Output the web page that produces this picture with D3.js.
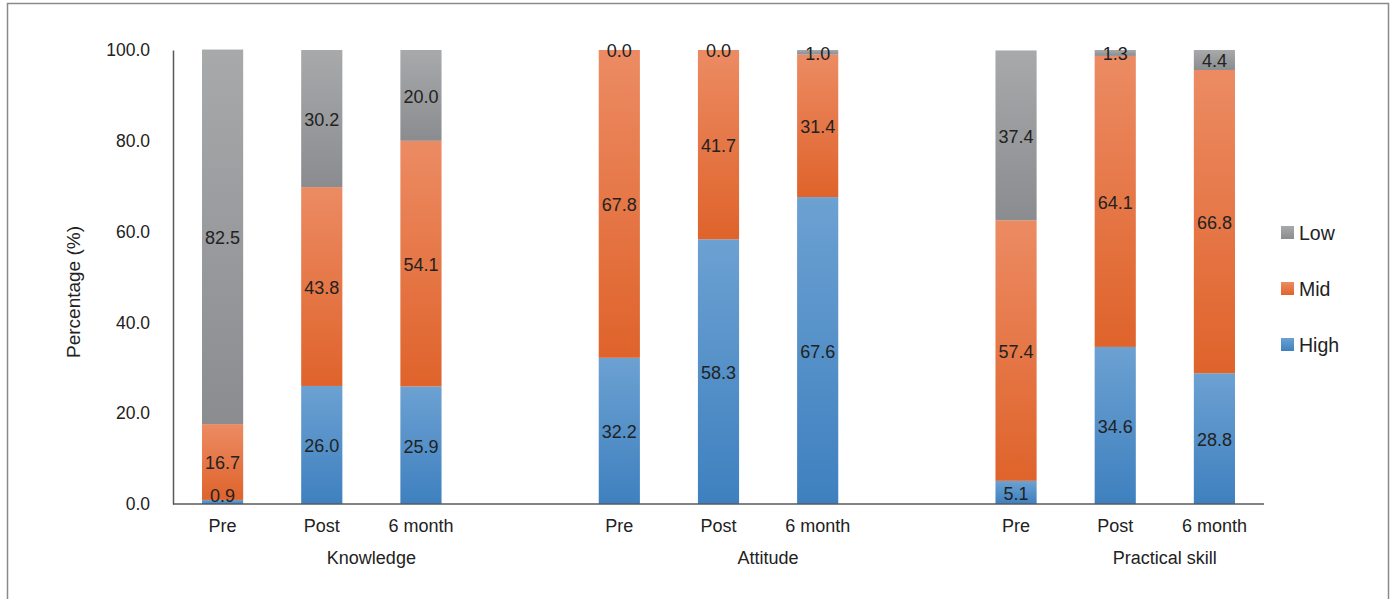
<!DOCTYPE html>
<html>
<head>
<meta charset="utf-8">
<script src="https://cdnjs.cloudflare.com/ajax/libs/d3/7.8.5/d3.min.js"></script>
<style>
  html, body { margin: 0; padding: 0; background: #fff; }
  svg { display: block; font-family: "Liberation Sans", Arial, sans-serif; }
</style>
</head>
<body>
<svg id="chart" width="1395" height="599"></svg>
<script>
// Domains and time points
const groups = ["Knowledge", "Attitude", "Practical skill"];
const timepoints = ["Pre", "Post", "6 month"];
const levels = ["High", "Mid", "Low"];

// Percentages per group, in time point order
const highValues = [[0.9, 26.0, 25.9], [32.2, 58.3, 67.6], [5.1, 34.6, 28.8]];
const midValues  = [[16.7, 43.8, 54.1], [67.8, 41.7, 31.4], [57.4, 64.1, 66.8]];
const lowValues  = [[82.5, 30.2, 20.0], [0.0, 0.0, 1.0], [37.4, 1.3, 4.4]];

const yTicks = [0, 20, 40, 60, 80, 100];

const svg = d3.select("#chart");

// Outer frame
svg.append("rect")
  .attr("x", 7.5).attr("y", 3.5)
  .attr("width", 1381).attr("height", 600)
  .attr("fill", "none").attr("stroke", "#8a8a8a").attr("stroke-width", 1.5);

const plot = { left: 173, right: 1264, top: 50, bottom: 504 };

// One band per bar, with an empty band between groups
const slots = [];
groups.forEach((g, gi) => {
  timepoints.forEach((t, ti) => slots.push({ key: g + "|" + t, group: g, gi, ti }));
  if (gi < groups.length - 1) slots.push({ key: "gap" + gi, gap: true });
});

const x = d3.scaleBand()
  .domain(slots.map(s => s.key))
  .range([plot.left, plot.right])
  .paddingInner(0.585)
  .paddingOuter(0.2925);

const y = d3.scaleLinear().domain([0, 100]).range([plot.bottom, plot.top]);

// Gradients for each level
const colors = {
  Low:  ["#a8a9ab", "#8b8c8f"],
  Mid:  ["#ec8b63", "#df632b"],
  High: ["#6ca1d2", "#3e80bf"]
};
const defs = svg.append("defs");
levels.forEach(l => {
  const grad = defs.append("linearGradient")
    .attr("id", "grad-" + l)
    .attr("x1", 0).attr("y1", 0).attr("x2", 0).attr("y2", 1);
  grad.append("stop").attr("offset", "0%").attr("stop-color", colors[l][0]);
  grad.append("stop").attr("offset", "100%").attr("stop-color", colors[l][1]);
});

// Stacked records
const rows = [];
groups.forEach((g, gi) => {
  timepoints.forEach((t, ti) => {
    rows.push({ key: g + "|" + t, High: highValues[gi][ti], Mid: midValues[gi][ti], Low: lowValues[gi][ti] });
  });
});
const stack = d3.stack().keys(levels)(rows);

// Y axis
const yAxis = d3.axisLeft(y).tickValues(yTicks).tickSize(0).tickPadding(23)
  .tickFormat(d3.format(".1f"));
svg.append("g")
  .attr("transform", `translate(${plot.left},0)`)
  .call(yAxis)
  .call(g => g.select(".domain").attr("stroke", "#595959").attr("stroke-width", 1.5))
  .call(g => g.selectAll("text").attr("font-size", 17.5).attr("fill", "#222")
    .attr("font-family", "Liberation Sans, Arial, sans-serif"));

// Bars
stack.forEach(layer => {
  svg.append("g").selectAll("rect")
    .data(layer)
    .join("rect")
    .attr("x", d => x(d.data.key))
    .attr("width", x.bandwidth())
    .attr("y", d => y(d[1]))
    .attr("height", d => y(d[0]) - y(d[1]))
    .attr("fill", `url(#grad-${layer.key})`);
});

// X axis line
svg.append("line")
  .attr("x1", plot.left).attr("x2", plot.right)
  .attr("y1", plot.bottom).attr("y2", plot.bottom)
  .attr("stroke", "#595959").attr("stroke-width", 1.5);

// Value labels, kept inside the plot area
stack.forEach(layer => {
  svg.append("g").selectAll("text")
    .data(layer)
    .join("text")
    .attr("x", d => x(d.data.key) + x.bandwidth() / 2)
    .attr("y", d => Math.min((y(d[0]) + y(d[1])) / 2, plot.bottom - 9) + 1)
    .attr("dy", "0.36em")
    .attr("text-anchor", "middle")
    .attr("font-size", 18)
    .attr("fill", "#222")
    .text(d => d.data[layer.key].toFixed(1));
});

// Time point labels
svg.append("g").selectAll("text")
  .data(slots.filter(s => !s.gap))
  .join("text")
  .attr("x", d => x(d.key) + x.bandwidth() / 2)
  .attr("y", 532)
  .attr("text-anchor", "middle")
  .attr("font-size", 18)
  .attr("fill", "#222")
  .text(d => timepoints[d.ti]);

// Group labels
svg.append("g").selectAll("text")
  .data(groups)
  .join("text")
  .attr("x", g => x(g + "|Post") + x.bandwidth() / 2 + 49.6)
  .attr("y", 564)
  .attr("text-anchor", "middle")
  .attr("font-size", 18)
  .attr("fill", "#222")
  .text(g => g);

// Y axis title
svg.append("text")
  .attr("transform", `translate(80,292) rotate(-90)`)
  .attr("text-anchor", "middle")
  .attr("font-size", 19)
  .attr("fill", "#222")
  .text("Percentage (%)");

// Legend
const legendOrder = ["Low", "Mid", "High"];
const legend = svg.append("g").selectAll("g")
  .data(legendOrder)
  .join("g")
  .attr("transform", (d, i) => `translate(1281,${226 + i * 56})`);
legend.append("rect")
  .attr("width", 13).attr("height", 13)
  .attr("fill", d => `url(#grad-${d})`);
legend.append("text")
  .attr("x", 18).attr("y", 6.5).attr("dy", "0.36em")
  .attr("font-size", 19.5).attr("fill", "#222")
  .text(d => d);
</script>
</body>
</html>
